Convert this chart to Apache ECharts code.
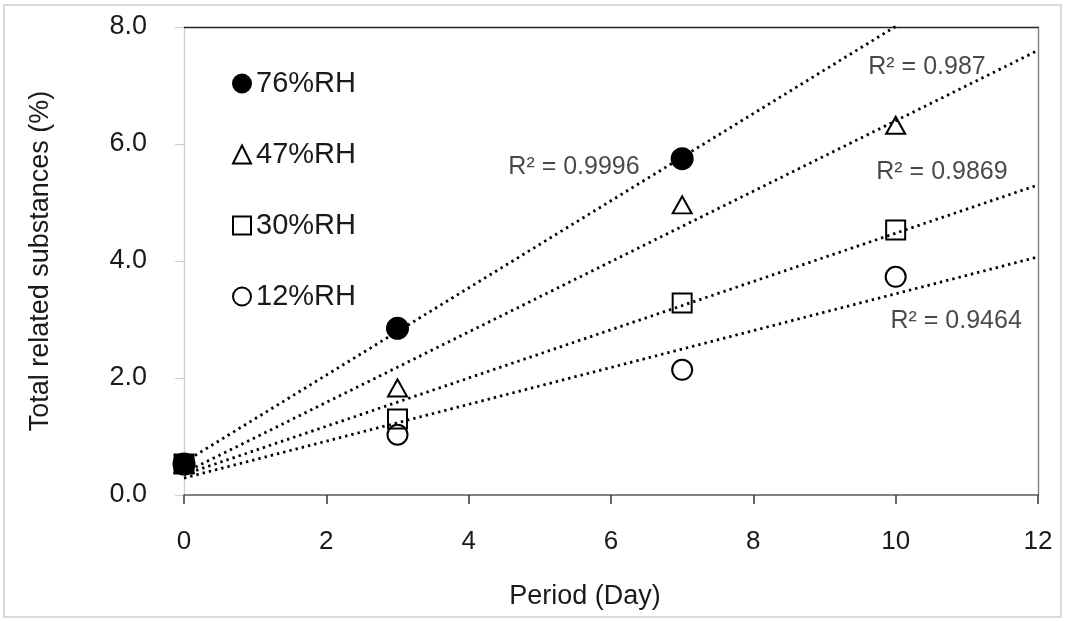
<!DOCTYPE html>
<html>
<head>
<meta charset="utf-8">
<script src="https://cdn.jsdelivr.net/npm/echarts@6/dist/echarts.min.js"></script>
<style>
html,body{margin:0;padding:0;background:#fff;}
#chart{width:1065px;height:621px;}
</style>
</head>
<body>
<div id="chart"></div>
<script>
// ---- data ----
const seriesNames = ['76%RH', '47%RH', '30%RH', '12%RH'];
const days76 = [0, 3, 7];
const vals76 = [0.53, 2.85, 5.75];
const days47 = [0, 3, 7, 10];
const vals47 = [0.53, 1.83, 4.96, 6.32];
const days30 = [0, 3, 7, 10];
const vals30 = [0.53, 1.30, 3.28, 4.53];
const days12 = [0, 3, 7, 10];
const vals12 = [0.53, 1.03, 2.14, 3.73];
// trendline values read at day 0 and day 12
const trendDays = [0, 12];
const trend76 = [0.56, 9.50];
const trend47 = [0.38, 7.60];
const trend30 = [0.35, 5.30];
const trend12 = [0.29, 4.07];
const r2Values = ['0.9996', '0.987', '0.9869', '0.9464'];
const xTicks = [0, 2, 4, 6, 8, 10, 12];
const yTicks = [0, 2, 4, 6, 8];

// ---- layout / style ----
const FONT = 'Liberation Sans, Arial, sans-serif';
const TXT = '#1a1a1a';
const r2Anchors = [[5.48, 5.61], [10.44, 7.32], [10.65, 5.52], [10.85, 2.97]];

function pairs(xs, ys) { return xs.map((x, i) => [x, ys[i]]); }

const HOLLOW = 'rgba(255,255,255,0)';
const markerDefs = [
  { symbol: 'circle', size: 21, fill: '#000', z: 5 },
  { symbol: 'triangle', size: 19, fill: HOLLOW, z: 5 },
  { symbol: 'rect', size: 19, fill: HOLLOW, z: 7 },
  { symbol: 'circle', size: 20, fill: HOLLOW, z: 5 }
];
const pointSets = [pairs(days76, vals76), pairs(days47, vals47), pairs(days30, vals30), pairs(days12, vals12)];
const trendSets = [pairs(trendDays, trend76), pairs(trendDays, trend47), pairs(trendDays, trend30), pairs(trendDays, trend12)];

const series = [];
trendSets.forEach((d, i) => {
  series.push({
    name: seriesNames[i] + ' trend',
    type: 'line',
    data: d,
    showSymbol: false,
    symbol: 'none',
    clip: true,
    silent: true,
    z: 2,
    lineStyle: { color: '#000', width: 2.8, type: [2.4, 4], cap: 'butt' }
  });
});
pointSets.forEach((d, i) => {
  const m = markerDefs[i];
  const data = d.map((p, j) => {
    if (j === 0) {
      // overlapping day-0 markers appear as one solid black square
      return { value: p, itemStyle: { color: '#000' } };
    }
    return { value: p };
  });
  series.push({
    name: seriesNames[i],
    type: 'scatter',
    data: data,
    symbol: m.symbol,
    symbolSize: m.symbol === 'triangle' ? [19, 17] : m.size,
    z: m.z,
    itemStyle: { color: m.fill, borderColor: '#000', borderWidth: 2, opacity: 1 }
  });
});
series.push({
  name: 'r2',
  type: 'scatter',
  silent: true,
  symbolSize: 1,
  itemStyle: { color: 'rgba(0,0,0,0)' },
  z: 8,
  data: r2Anchors.map((p, i) => ({ value: p, r2: r2Values[i] })),
  label: {
    show: true,
    position: 'inside',
    fontFamily: FONT,
    fontSize: 25,
    color: TXT,
    formatter: (p) => 'R² = ' + p.data.r2
  }
});

const chart = echarts.init(document.getElementById('chart'), null, { renderer: 'canvas' });
chart.setOption({
  backgroundColor: '#fff',
  animation: false,
  graphic: [{
    type: 'rect',
    shape: { x: 4, y: 5, width: 1057, height: 612 },
    style: { fill: 'none', stroke: '#d9d9d9', lineWidth: 2 },
    silent: true, z: 0
  }],
  grid: { left: 184, right: 27, top: 27, bottom: 126, containLabel: false },
  legend: {
    data: seriesNames.map((n, i) => ({
      name: n,
      itemStyle: { color: markerDefs[i].fill, borderColor: '#000', borderWidth: 2 }
    })),
    orient: 'vertical',
    left: 227,
    top: 64,
    itemWidth: 18,
    itemHeight: 18,
    itemGap: 42,
    selectedMode: false,
    textStyle: { fontFamily: FONT, fontSize: 29, color: TXT }
  },
  xAxis: [{
    type: 'value',
    min: 0, max: 12, interval: 2,
    name: 'Period (Day)',
    nameLocation: 'middle',
    nameGap: 88,
    nameTextStyle: { fontFamily: FONT, fontSize: 27, color: TXT, padding: [0, 52, 0, 0] },
    axisLine: { show: true, onZero: false, lineStyle: { color: '#595959', width: 1.6 } },
    axisTick: { show: true, inside: false, length: 9, lineStyle: { color: '#404040', width: 1.6 } },
    axisLabel: { fontFamily: FONT, fontSize: 26, color: TXT, margin: 34, formatter: (v) => String(v) },
    splitLine: { show: false }
  }, {
    type: 'value', position: 'top', min: 0, max: 12,
    axisLine: { show: true, onZero: false, lineStyle: { color: '#262626', width: 1.4 } },
    axisTick: { show: false }, axisLabel: { show: false }, splitLine: { show: false }
  }],
  yAxis: [{
    type: 'value',
    min: 0, max: 8, interval: 2,
    name: 'Total related substances (%)',
    nameLocation: 'middle',
    nameGap: 130,
    nameRotate: 90,
    nameTextStyle: { fontFamily: FONT, fontSize: 27, color: TXT },
    axisLine: { show: true, onZero: false, lineStyle: { color: '#d0d0d0', width: 1.4 } },
    axisTick: { show: true, inside: false, length: 9, lineStyle: { color: '#d0d0d0', width: 1.2 } },
    axisLabel: { fontFamily: FONT, fontSize: 27, color: TXT, margin: 37, formatter: (v) => v.toFixed(1) },
    splitLine: { show: false }
  }, {
    type: 'value', position: 'right', min: 0, max: 8,
    axisLine: { show: true, onZero: false, lineStyle: { color: '#7f7f7f', width: 1.4 } },
    axisTick: { show: false }, axisLabel: { show: false }, splitLine: { show: false }
  }],
  series: series
});
</script>
</body>
</html>
